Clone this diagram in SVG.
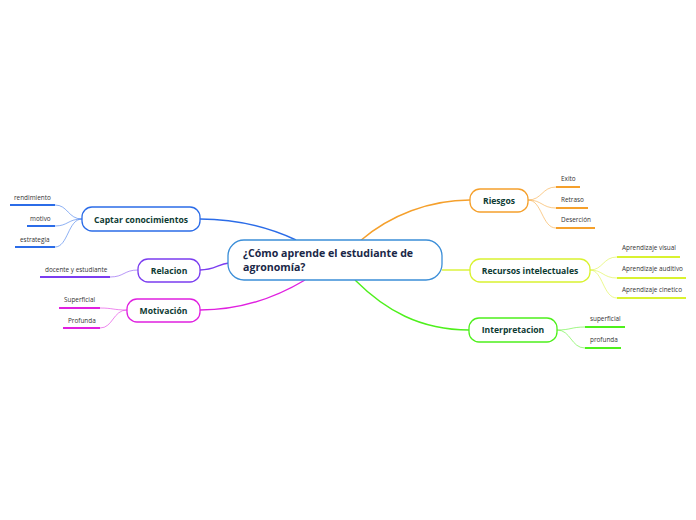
<svg xmlns="http://www.w3.org/2000/svg" width="696" height="520" viewBox="0 0 696 520">
<style>
.node{fill:#fff;stroke-width:1.3}
.t{font-family:"Open Sans","Noto Sans",sans-serif;font-weight:bold;font-size:8.6px;fill:#0e3b33;text-anchor:middle}
.c{font-family:"Open Sans","Noto Sans",sans-serif;font-weight:bold;font-size:10.6px;fill:#1a2747}
.s{font-family:"Open Sans","Noto Sans",sans-serif;font-size:6.4px;fill:#333}
.main{fill:none;stroke-width:1.4}
.sub{fill:none;stroke-width:0.9;opacity:0.6}
.ul{stroke-width:2}
</style>
<rect width="696" height="520" fill="#fff"/>
<g id="connectors">
<path class="main" stroke="#2b6ce8" d="M200,219 C240,219 270,228 296,240"/>
<path class="main" stroke="#7b3df0" d="M200,270 C215,270 218,264 229,263"/>
<path class="main" stroke="#e020e0" d="M200,310 C240,310 275,298 305,280"/>
<path class="main" stroke="#f5a02c" d="M360,241 C390,215 430,200 470,200"/>
<path class="main" stroke="#d9f230" d="M442,270 L470,270"/>
<path class="main" stroke="#4ef01c" d="M355,280 C385,310 420,330 469,330"/>
<g stroke="#2b6ce8">
<path class="sub" d="M82,219 C68,219 68,205 55,205"/>
<path class="sub" d="M82,219 C68,219 68,226 55,226"/>
<path class="sub" d="M82,219 C68,219 68,247 55,247"/>
</g>
<path class="sub" stroke="#7b3df0" d="M138,270 C124,270 124,277 110,277"/>
<g stroke="#e020e0">
<path class="sub" d="M127,310 C113,310 113,308 100,308"/>
<path class="sub" d="M127,310 C113,310 113,328 100,328"/>
</g>
<g stroke="#f5a02c">
<path class="sub" d="M528,200 C542,200 542,187 556,187"/>
<path class="sub" d="M528,200 C542,200 542,208 556,208"/>
<path class="sub" d="M528,200 C542,200 542,228 556,228"/>
</g>
<g stroke="#d9f230">
<path class="sub" d="M590,270 C603,270 603,257 617,257"/>
<path class="sub" d="M590,270 C603,270 603,278 617,278"/>
<path class="sub" d="M590,270 C603,270 603,298 617,298"/>
</g>
<g stroke="#4ef01c">
<path class="sub" d="M557,330 C571,330 571,327 585,327"/>
<path class="sub" d="M557,330 C571,330 571,348 585,348"/>
</g>
</g>
<g id="central">
<rect class="node" x="228" y="240" width="214" height="40" rx="16" stroke="#3b8ed8"/>
<text class="c" x="243" y="257">¿Cómo aprende el estudiante de</text>
<text class="c" x="243" y="271">agronomía?</text>
</g>
<g id="captar">
<rect class="node" x="82" y="207" width="118" height="24" rx="10" stroke="#2b6ce8"/>
<text class="t" x="141" y="222.5">Captar conocimientos</text>
<line class="ul" stroke="#2b6ce8" x1="10" y1="205" x2="55" y2="205"/>
<text class="s" x="14" y="200">rendimiento</text>
<line class="ul" stroke="#2b6ce8" x1="27" y1="226" x2="55" y2="226"/>
<text class="s" x="30" y="221">motivo</text>
<line class="ul" stroke="#2b6ce8" x1="15" y1="247" x2="55" y2="247"/>
<text class="s" x="20" y="242">estrategia</text>
</g>
<g id="relacion">
<rect class="node" x="138" y="259" width="62" height="23" rx="10" stroke="#7b3df0"/>
<text class="t" x="169" y="273.5">Relacion</text>
<line class="ul" stroke="#7b3df0" x1="40" y1="277" x2="110" y2="277"/>
<text class="s" x="45" y="272">docente y estudiante</text>
</g>
<g id="motivacion">
<rect class="node" x="127" y="299" width="73" height="23" rx="10" stroke="#e020e0"/>
<text class="t" x="163.5" y="313.5">Motivación</text>
<line class="ul" stroke="#e020e0" x1="59" y1="308" x2="100" y2="308"/>
<text class="s" x="64" y="302">Superficial</text>
<line class="ul" stroke="#e020e0" x1="63" y1="328" x2="100" y2="328"/>
<text class="s" x="68" y="323">Profunda</text>
</g>
<g id="riesgos">
<rect class="node" x="470" y="189" width="58" height="23" rx="10" stroke="#f5a02c"/>
<text class="t" x="499" y="203.5">Riesgos</text>
<line class="ul" stroke="#f5a02c" x1="556" y1="187" x2="580" y2="187"/>
<text class="s" x="561" y="181">Exito</text>
<line class="ul" stroke="#f5a02c" x1="556" y1="208" x2="588" y2="208"/>
<text class="s" x="561" y="202">Retraso</text>
<line class="ul" stroke="#f5a02c" x1="556" y1="228" x2="595" y2="228"/>
<text class="s" x="561" y="222">Deserción</text>
</g>
<g id="recursos">
<rect class="node" x="470" y="259" width="120" height="23" rx="10" stroke="#d9f230"/>
<text class="t" x="530" y="273.5">Recursos intelectuales</text>
<line class="ul" stroke="#d9f230" x1="617" y1="257" x2="680" y2="257"/>
<text class="s" x="622" y="250">Aprendizaje visual</text>
<line class="ul" stroke="#d9f230" x1="617" y1="278" x2="686" y2="278"/>
<text class="s" x="622" y="271">Aprendizaje auditivo</text>
<line class="ul" stroke="#d9f230" x1="617" y1="298" x2="686" y2="298"/>
<text class="s" x="622" y="292">Aprendizaje cinetico</text>
</g>
<g id="interpretacion">
<rect class="node" x="469" y="318" width="88" height="24" rx="10" stroke="#4ef01c"/>
<text class="t" x="513" y="333">Interpretacion</text>
<line class="ul" stroke="#4ef01c" x1="585" y1="327" x2="625" y2="327"/>
<text class="s" x="590" y="321">superficial</text>
<line class="ul" stroke="#4ef01c" x1="585" y1="348" x2="621" y2="348"/>
<text class="s" x="590" y="342">profunda</text>
</g>
</svg>
